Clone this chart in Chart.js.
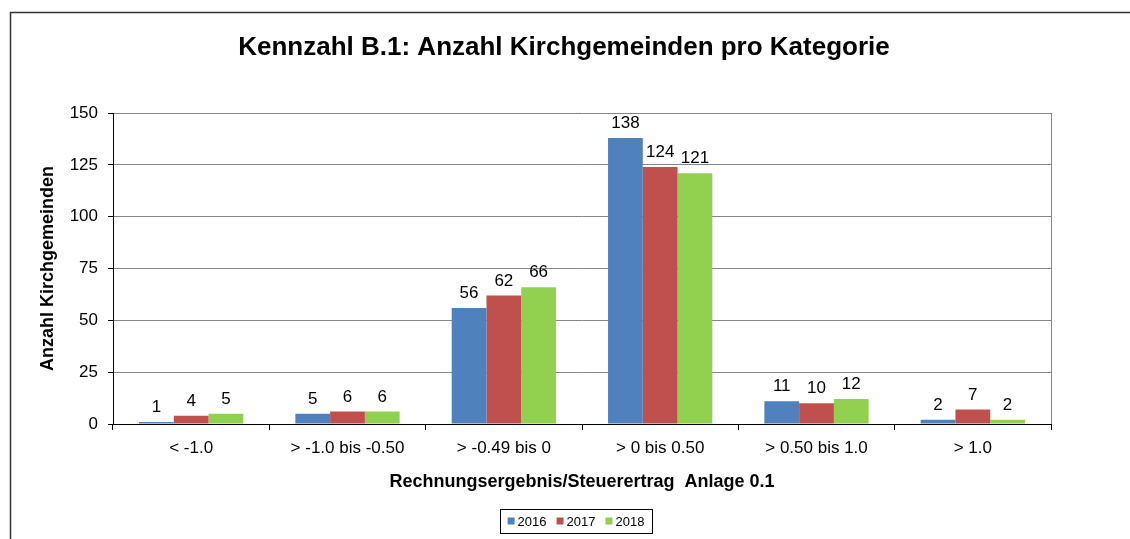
<!DOCTYPE html>
<html>
<head>
<meta charset="utf-8">
<script src="https://cdn.jsdelivr.net/npm/chart.js@4.4.1/dist/chart.umd.min.js"></script>
<style>
  html, body { margin: 0; padding: 0; background: #fff; }
  canvas { display: block; }
</style>
</head>
<body>
<canvas id="kennzahl-chart" width="1130" height="539"></canvas>
<script>
const categories = ['< -1.0', '> -1.0 bis -0.50', '> -0.49 bis 0', '> 0 bis 0.50', '> 0.50 bis 1.0', '> 1.0'];
const years = ['2016', '2017', '2018'];
const values2016 = [1, 5, 56, 138, 11, 2];
const values2017 = [4, 6, 62, 124, 10, 7];
const values2018 = [5, 6, 66, 121, 12, 2];
const yTicks = [0, 25, 50, 75, 100, 125, 150];

const colors = ['#4F81BD', '#C0504D', '#92D050'];
const fontFamily = 'Arial, "Liberation Sans", sans-serif';
const chartTitle = 'Kennzahl B.1: Anzahl Kirchgemeinden pro Kategorie';

// outer frame, title and right border of the plot area
const framePlugin = {
    id: 'frame',
    beforeDraw(chart) {
        const ctx = chart.ctx;
        ctx.save();
        ctx.fillStyle = '#fff';
        ctx.fillRect(0, 0, chart.width, chart.height);
        ctx.strokeStyle = '#333';
        ctx.lineWidth = 1.5;
        ctx.strokeRect(10.5, 12.5, chart.width + 20, chart.height + 20);
        ctx.fillStyle = '#000';
        ctx.font = 'bold 26px ' + fontFamily;
        ctx.textAlign = 'center';
        ctx.textBaseline = 'middle';
        ctx.fillText(chartTitle, 564, 48);
        ctx.restore();
    },
    afterDraw(chart) {
        const ctx = chart.ctx;
        const area = chart.chartArea;
        ctx.save();
        ctx.strokeStyle = '#868686';
        ctx.lineWidth = 1;
        ctx.beginPath();
        ctx.moveTo(Math.round(area.right) + 0.5, area.top);
        ctx.lineTo(Math.round(area.right) + 0.5, area.bottom);
        ctx.stroke();
        ctx.restore();
    }
};

// value labels above each bar
const barLabels = {
    id: 'barLabels',
    afterDatasetsDraw(chart) {
        const ctx = chart.ctx;
        ctx.save();
        ctx.font = '17px ' + fontFamily;
        ctx.fillStyle = '#000';
        ctx.textAlign = 'center';
        ctx.textBaseline = 'bottom';
        chart.data.datasets.forEach((ds, i) => {
            chart.getDatasetMeta(i).data.forEach((bar, j) => {
                ctx.fillText(ds.data[j], bar.x, bar.y - 6);
            });
        });
        ctx.restore();
    }
};

// boxed legend at the bottom, Excel style
const boxLegend = {
    id: 'boxLegend',
    afterDraw(chart) {
        const ctx = chart.ctx;
        const sets = chart.data.datasets;
        ctx.save();
        ctx.font = '13px ' + fontFamily;
        ctx.textBaseline = 'middle';
        const sq = 7, gapSq = 3, gapItem = 10;
        let total = 0;
        const widths = sets.map(ds => ctx.measureText(ds.label).width);
        widths.forEach((w, i) => { total += sq + gapSq + w + (i > 0 ? gapItem : 0); });
        const cx = 576, cy = 521;
        let x = cx - total / 2;
        ctx.strokeStyle = '#000';
        ctx.lineWidth = 1;
        ctx.strokeRect(500.5, 509.5, 152, 24);
        sets.forEach((ds, i) => {
            ctx.fillStyle = ds.backgroundColor;
            ctx.fillRect(x, cy - sq / 2, sq, sq);
            x += sq + gapSq;
            ctx.fillStyle = '#000';
            ctx.fillText(ds.label, x, cy + 1);
            x += widths[i] + gapItem;
        });
        ctx.restore();
    }
};

const ctx = document.getElementById('kennzahl-chart').getContext('2d');

new Chart(ctx, {
    type: 'bar',
    data: {
        labels: categories,
        datasets: [
            { label: years[0], data: values2016, backgroundColor: colors[0] },
            { label: years[1], data: values2017, backgroundColor: colors[1] },
            { label: years[2], data: values2018, backgroundColor: colors[2] }
        ]
    },
    options: {
        responsive: false,
        animation: false,
        devicePixelRatio: 1,
        layout: { padding: { left: 0, right: 79, top: 113, bottom: 0 } },
        datasets: {
            bar: { categoryPercentage: 0.667, barPercentage: 1, borderWidth: 0 }
        },
        plugins: {
            legend: { display: false },
            tooltip: { enabled: false },
            title: { display: false }
        },
        scales: {
            x: {
                grid: {
                    offset: true,
                    drawOnChartArea: false,
                    drawTicks: true,
                    tickLength: 6,
                    tickColor: '#000'
                },
                border: { color: '#000', width: 1 },
                ticks: {
                    color: '#000',
                    padding: 8,
                    maxRotation: 0,
                    font: { family: fontFamily, size: 17 }
                },
                title: {
                    display: true,
                    text: 'Rechnungsergebnis/Steuerertrag  Anlage 0.1',
                    color: '#000',
                    font: { family: fontFamily, size: 18, weight: 'bold' },
                    padding: { top: 0, bottom: 46 }
                },
                afterFit(scale) { scale.height = 115; }
            },
            y: {
                min: 0,
                max: 150,
                afterBuildTicks(scale) { scale.ticks = yTicks.map(v => ({ value: v })); },
                grid: {
                    color: '#868686',
                    tickColor: '#000',
                    tickLength: 5
                },
                border: { color: '#000', width: 1 },
                ticks: {
                    color: '#000',
                    padding: 10,
                    font: { family: fontFamily, size: 17 }
                },
                title: {
                    display: true,
                    text: 'Anzahl Kirchgemeinden',
                    color: '#000',
                    font: { family: fontFamily, size: 18, weight: 'bold' },
                    padding: { top: 37, bottom: 0 }
                },
                afterFit(scale) { scale.width = 113; }
            }
        }
    },
    plugins: [framePlugin, barLabels, boxLegend]
});
</script>
</body>
</html>
